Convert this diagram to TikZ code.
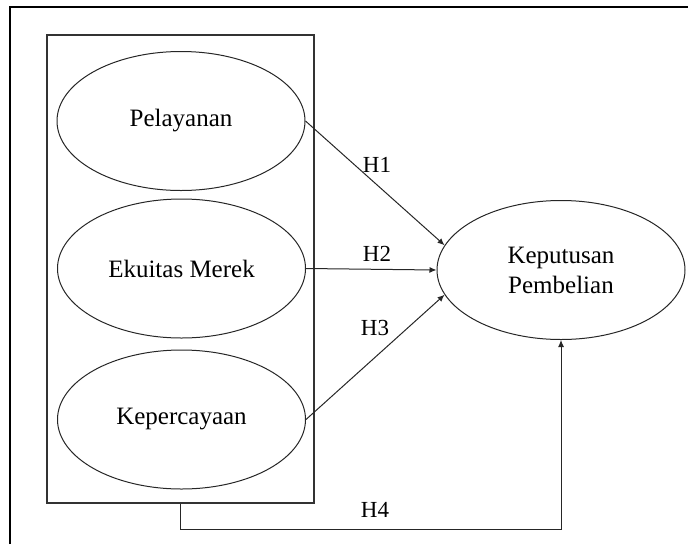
\documentclass[tikz,border=0pt]{standalone}
\usepackage{fontspec}
\setmainfont{Liberation Serif}
\usetikzlibrary{shapes.geometric,arrows.meta}
\begin{document}
\begin{tikzpicture}[x=1pt,y=-1pt,
  var/.style={ellipse,draw=black!85,line width=1pt,minimum width=248pt,minimum height=139pt,inner sep=0pt,font=\fontsize{25}{30}\selectfont,align=center},
  lab/.style={font=\fontsize{23}{27}\selectfont,inner sep=0pt},
  conn/.style={draw=black!85,line width=1pt,-{Latex[length=7pt,width=6pt]}},
  frame/.style={draw=black,line width=2pt},
  groupbox/.style={draw=black!80,line width=1.3pt,minimum width=267pt,minimum height=468pt,inner sep=0pt}]
\useasboundingbox (0,0) rectangle (688,544);
\coordinate (fbl) at (10,544);
\coordinate (ftl) at (10,7);
\coordinate (ftr) at (688,7);
\draw[frame] (fbl) -- (ftl) -- (ftr);
\node[groupbox] (box) at (180.5,269) {};
\node[var] (p) at (181,121) {Pelayanan};
\node[var] (e) at (181.5,268.5) {Ekuitas Merek};
\node[var] (c) at (181.5,419.5) {Kepercayaan};
\node[var] (k) at (561,270) {Keputusan\\Pembelian};
\draw[conn] (p.east) -- (k.168);
\draw[conn] (e.east) -- (k.west);
\draw[conn] (c.east) -- (k.192);
\draw[conn] (box.south) -- ++(0,26) -| (k.south);
\node[lab] (h1) at (377,165) {H1};
\node[lab] (h2) at (377,254) {H2};
\node[lab] (h3) at (375,328) {H3};
\node[lab] (h4) at (375,510) {H4};
\end{tikzpicture}
\end{document}
